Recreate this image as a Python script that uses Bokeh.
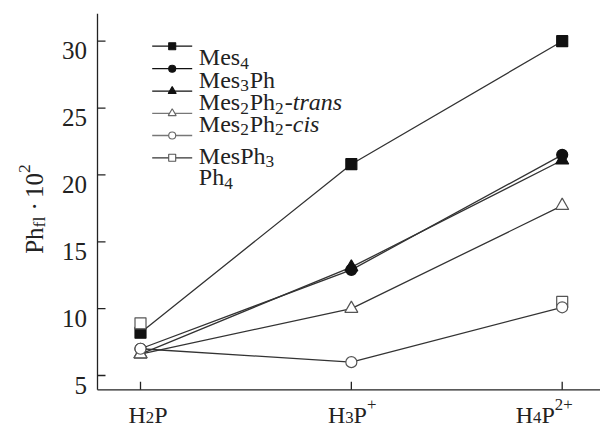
import math
from bokeh.plotting import figure
from bokeh.models import Label, Range1d
from bokeh.embed import file_html
from bokeh.resources import INLINE
from bokeh.core.properties import value

# ---------------- data ----------------
categories = ["H2P", "H3P+", "H4P2+"]
x_pos = [0, 1, 2]
mes4 = [8.2, 20.8, 30.0]
mes3ph = [7.0, 12.9, 21.5]
mes2ph2_trans = [6.6, 13.1, 21.1]
mes2ph2_cis = [6.6, 10.0, 17.7]
mesph3 = [7.0, 6.0, 10.1]
ph4 = [8.9, float("nan"), 10.5]
y_ticks = [5, 10, 15, 20, 25, 30]

FONT = "Liberation Serif"
TEXT = "#222222"
LINE = "#333333"
W, H = 600, 428

# picture-pixel <-> data mapping
X0_PX, X_SCALE = 140.0, 210.85
Y5_PX, Y_SCALE = 375.0, 13.372


def xd(px):
    return (px - X0_PX) / X_SCALE


def yd(py):
    return 5 + (Y5_PX - py) / Y_SCALE


# axis extents (data units)
X_LO, X_HI = xd(97), xd(W)
Y_LO, Y_HI = yd(389.3), yd(13.3)
TICK_LEN = 8

W_REG = {" ": 250, "+": 564, "-": 333, "\u00b7": 250, "H": 722, "M": 889, "P": 556,
         "e": 444, "s": 389, "h": 500, "f": 333, "l": 278, "i": 278, "c": 444,
         "t": 278, "r": 333, "a": 444, "n": 500}
W_IT = {"t": 278, "r": 389, "a": 500, "n": 500, "s": 389, "c": 444, "i": 278}


def text_width(txt, italic):
    tot = 0
    for ch in txt:
        if ch.isdigit():
            tot += 500
        elif italic:
            tot += W_IT.get(ch, 450)
        else:
            tot += W_REG.get(ch, 500)
    return tot / 1000.0


def rich_width(segs, fs, scale=0.72, sub_gap=0.0):
    w = 0
    for txt, kind in segs:
        f = fs * (scale if kind in ("sub", "sup") else 1.0)
        w += text_width(txt, kind == "i") * f
        if kind == "sub":
            w += sub_gap
    return w


def rich(p, x0, y0, segs, fs, angle=0.0, scale=0.72, sub_shift=0.22,
         sup_shift=0.42, sub_gap=0.0):
    adv = 0.0
    for txt, kind in segs:
        f = fs * (scale if kind in ("sub", "sup") else 1.0)
        italic = kind == "i"
        # SVG drops leading blanks: advance past them explicitly
        lead = len(txt) - len(txt.lstrip(" "))
        adv += text_width(" " * lead, italic) * f
        body = txt.strip(" ")
        shift = 0.0
        if kind == "sub":
            shift = sub_shift * fs
        elif kind == "sup":
            shift = -sup_shift * fs
        if angle == 0:
            px, py = x0 + adv, y0 + shift
        else:
            px, py = x0 + shift, y0 - adv
        p.add_layout(Label(x=xd(px), y=yd(py), text=body, text_font=FONT,
                           text_font_size=f"{f:.1f}px",
                           text_font_style="italic" if italic else "normal",
                           text_color=TEXT, angle=angle, text_align="left",
                           text_baseline="alphabetic"))
        adv += text_width(txt.lstrip(" "), italic) * f
        if kind == "sub":
            adv += sub_gap


p = figure(width=W, height=H, output_backend="svg", toolbar_location=None,
           x_range=Range1d(xd(0), xd(W)), y_range=Range1d(yd(H), yd(0)),
           x_axis_type=None, y_axis_type=None, min_border=0)
p.title.visible = False
p.outline_line_color = None
p.background_fill_color = "white"
p.border_fill_color = "white"

# ---------------- axes ----------------
p.segment(x0=[X_LO, X_LO], y0=[Y_LO, Y_LO], x1=[X_LO, X_HI], y1=[Y_HI, Y_LO],
          line_color=TEXT, line_width=1.3)
p.segment(x0=[X_LO] * len(y_ticks), y0=y_ticks,
          x1=[X_LO + TICK_LEN / X_SCALE] * len(y_ticks), y1=y_ticks,
          line_color=TEXT, line_width=1.3)
p.segment(x0=x_pos, y0=[Y_LO] * 3, x1=x_pos, y1=[Y_LO + TICK_LEN / Y_SCALE] * 3,
          line_color=TEXT, line_width=1.3)
p.text(x=[X_LO] * len(y_ticks), y=y_ticks, text=[str(t) for t in y_ticks],
       text_font=value(FONT), text_font_size="25px", text_color=TEXT,
       text_align="right", text_baseline="alphabetic", x_offset=-10.5, y_offset=9.5)

# ---------------- series ----------------
series = [
    (mes4, "square", "#111111", "#111111"),
    (mes3ph, "circle", "#111111", "#111111"),
    (mes2ph2_trans, "triangle", "#111111", "#111111"),
    (ph4, "square", "#555555", "white"),
    (mes2ph2_cis, "triangle", "#555555", "white"),
    (mesph3, "circle", "#555555", "white"),
]
sizes = {"square": 11, "circle": 11, "triangle": 13}
for ys, mk, lc, fc in series:
    p.line(x_pos, ys, line_color=LINE, line_width=1.3)
for ys, mk, lc, fc in series:
    p.scatter(x_pos, ys, marker=mk, size=sizes[mk], line_color=lc,
              fill_color=fc, line_width=1.2)

# ---------------- legend ----------------
leg_names = [
    [("Mes", "n"), ("4", "sub")],
    [("Mes", "n"), ("3", "sub"), ("Ph", "n")],
    [("Mes", "n"), ("2", "sub"), ("Ph", "n"), ("2", "sub"), ("-", "n"), ("trans", "i")],
    [("Mes", "n"), ("2", "sub"), ("Ph", "n"), ("2", "sub"), ("-", "n"), ("cis", "i")],
    [("MesPh", "n"), ("3", "sub")],
    [("Ph", "n"), ("4", "sub")],
]
leg_marks = [("square", "#111111", "#111111", "#111111"),
             ("circle", "#111111", "#111111", "#111111"),
             ("triangle", "#111111", "#111111", "#111111"),
             ("triangle", "#666666", "white", "#777777"),
             ("circle", "#666666", "white", "#777777"),
             ("square", "#555555", "white", "#333333")]
key_y = [45.7, 68.2, 90.6, 112.8, 135.0, 157.3]
text_base = [56.7, 79.0, 101.5, 123.3, 155.0, 176.7]
for i in range(6):
    mk, lc, fc, kc = leg_marks[i]
    ky = yd(key_y[i])
    p.line([xd(151.7), xd(191.7)], [ky, ky], line_color=kc, line_width=1.3)
    p.scatter([xd(171.7)], [ky], marker=mk, size=7 if mk != "triangle" else 8,
              line_color=lc, fill_color=fc, line_width=1.1)
    rich(p, 198.3, text_base[i], leg_names[i], 24, scale=0.72, sub_shift=0.25,
         sub_gap=1.0)

# ---------------- x tick labels ----------------
x_labels = [
    [("H", "n"), ("2", "sub"), ("P", "n")],
    [("H", "n"), ("3", "sub"), ("P", "n"), ("+", "sup")],
    [("H", "n"), ("4", "sub"), ("P", "n"), ("2+", "sup")],
]
x_label_center_offset = [7.5, 0.8, -18.0]
for i, segs in enumerate(x_labels):
    cx = X0_PX + x_pos[i] * X_SCALE + x_label_center_offset[i]
    w = rich_width(segs, 24, 0.7)
    rich(p, cx - w / 2, 414.5, segs, 24, scale=0.7, sub_shift=0.12, sup_shift=0.42)

# ---------------- y axis label ----------------
y_label = [("Ph", "n"), ("fl", "sub"), (" \u00b7 ", "n"), ("10", "n"), ("2", "sup")]
rich(p, 34.0, 253.3, y_label, 25, angle=math.pi / 2, scale=0.7,
     sub_shift=0.18, sup_shift=0.42)

open("out.html", "w").write(file_html(p, INLINE))
